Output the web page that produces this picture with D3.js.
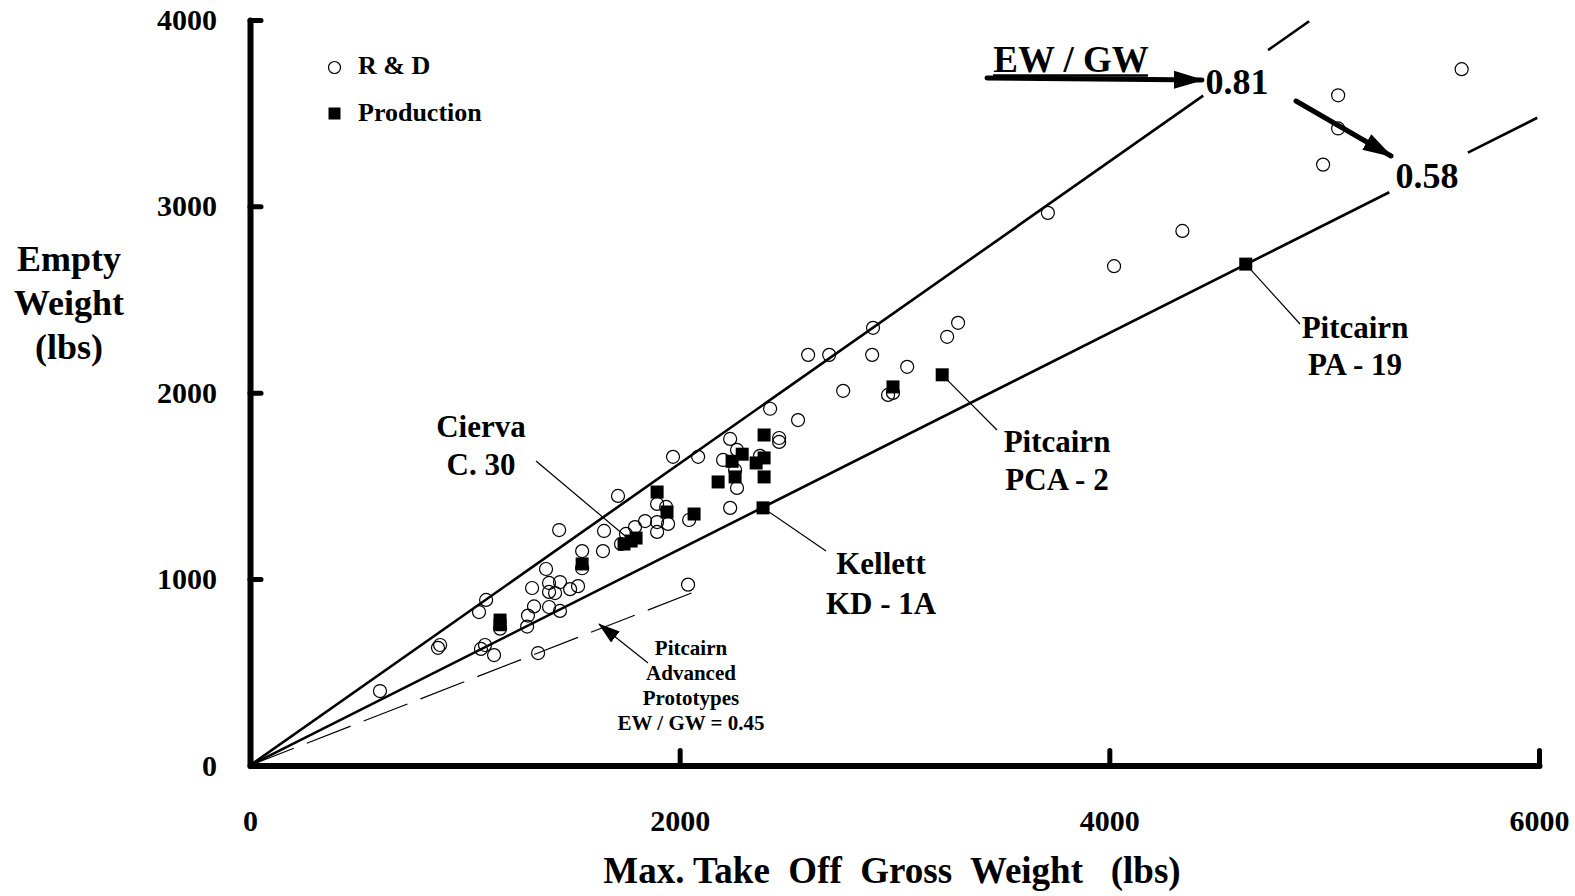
<!DOCTYPE html>
<html>
<head>
<meta charset="utf-8">
<script src="https://cdn.jsdelivr.net/npm/d3@7"></script>
<style>
  body { margin: 0; background: #fff; }
  text { font-family: "Liberation Serif", "Times New Roman", serif; font-weight: bold; fill: #000; }
</style>
</head>
<body>
<div id="chart"></div>
<script>
// R & D aircraft: gross weight / empty weight (lbs)
rdGross = [605, 875, 885, 1066, 1099, 1075, 1094, 1136, 1341, 1164, 1290, 1294, 1322, 1392, 1443,
  1313, 1378, 1392, 1443, 1392, 1420, 1490, 1527, 1439, 1546, 1643, 1648, 1713, 1969, 2086,
  1895, 1937, 1895, 1946, 1895, 1839, 1792, 1750, 1727, 2044, 2421, 2551, 2463, 2463, 2235,
  2267, 2202, 2258, 2267, 2374, 2235, 2900, 2598, 2696, 2896, 3059, 2761, 2970, 2993, 3296,
  3245, 3714, 4022, 4340, 4995, 5065, 5065, 5640, 2039, 1546]
rdEmpty = [399, 631, 646, 823, 888, 625, 646, 592, 603, 734, 745, 804, 853, 850, 829,
  952, 1054, 979, 984, 931, 925, 946, 962, 1263, 1150, 1150, 1258, 1446, 1656, 1656,
  1403, 1387, 1306, 1296, 1253, 1311, 1279, 1242, 1188, 1317, 1914, 1853, 1757, 1736, 1752,
  1693, 1639, 1585, 1489, 1661, 1382, 2348, 2203, 2203, 2203, 2139, 2010, 1988, 1999, 2375,
  2300, 2965, 2679, 2868, 3224, 3418, 3596, 3736, 970, 1058]

// Production aircraft
prodGross = [1164, 1164, 1546, 1741, 1774, 1797, 1895, 1941, 2067, 2179, 2244, 2291, 2356, 2393,
  2393, 2258, 2393, 2388, 2993, 3222, 4635]
prodEmpty = [780, 755, 1081, 1188, 1204, 1220, 1467, 1360, 1349, 1521, 1632, 1670, 1623, 1650,
  1773, 1548, 1548, 1382, 2031, 2096, 2690]

// EW / GW trend lines: ratio and drawn gross-weight segments
trendRatio = [0.81, 0.58]
trendSegments = [[[0, 4437], [4739, 4930]], [[0, 5303], [5669, 5992]]]
protoRatio = 0.45
protoSegment = [0, 2080]

xTicks = [0, 2000, 4000, 6000]
yTicks = [0, 1000, 2000, 3000, 4000]

width = 1575
height = 896

x = d3.scaleLinear().domain([0, 6000]).range([250, 1539])
y = d3.scaleLinear().domain([0, 4000]).range([765.4, 20])

const svg = d3.select('#chart').append('svg')
  .attr('width', width)
  .attr('height', height)

const defs = svg.append('defs')
defs.append('marker')
  .attr('id', 'bigHead')
  .attr('markerUnits', 'userSpaceOnUse')
  .attr('viewBox', '0 0 30 20')
  .attr('refX', 28).attr('refY', 10)
  .attr('markerWidth', 30).attr('markerHeight', 20)
  .attr('orient', 'auto')
  .append('path').attr('d', 'M0,1 L30,10 L0,19 Z').attr('fill', '#000')
defs.append('marker')
  .attr('id', 'smallHead')
  .attr('markerUnits', 'userSpaceOnUse')
  .attr('viewBox', '0 0 22 14')
  .attr('refX', 21).attr('refY', 7)
  .attr('markerWidth', 22).attr('markerHeight', 14)
  .attr('orient', 'auto')
  .append('path').attr('d', 'M0,0 L22,7 L0,14 Z').attr('fill', '#000')

// trend lines
const line = d3.line().x(d => x(d[0])).y(d => y(d[1]))
trendRatio.forEach(function(r, i) {
  trendSegments[i].forEach(function(seg) {
    svg.append('path')
      .attr('d', line(seg.map(g => [g, g * r])))
      .attr('stroke', '#000')
      .attr('stroke-width', 2.6)
      .attr('fill', 'none')
  })
})
svg.append('path')
  .attr('d', line(protoSegment.map(g => [g, g * protoRatio])))
  .attr('stroke', '#000')
  .attr('stroke-width', 1.2)
  .attr('stroke-dasharray', '47,14')
  .attr('fill', 'none')

// axes
const xAxis = svg.append('g')
  .attr('transform', 'translate(0,' + y(0) + ')')
  .call(d3.axisBottom(x).tickValues(xTicks).tickFormat(d3.format('d'))
    .tickSizeInner(-15).tickSizeOuter(0).tickPadding(44))
const yAxis = svg.append('g')
  .attr('transform', 'translate(' + x(0) + ',0)')
  .call(d3.axisLeft(y).tickValues(yTicks).tickFormat(d3.format('d'))
    .tickSizeInner(-11).tickSizeOuter(0).tickPadding(33))

;[xAxis, yAxis].forEach(function(a) {
  a.select('.domain').attr('stroke', '#000').attr('stroke-width', 6).attr('stroke-linecap', 'round')
  a.selectAll('.tick line').attr('stroke', '#000').attr('stroke-width', 5).attr('stroke-linecap', 'round')
  a.selectAll('.tick text')
    .style('font-family', '"Liberation Serif", serif')
    .style('font-weight', 'bold')
    .style('font-size', '30px')
    .attr('fill', '#000')
})
yAxis.selectAll('.tick line').filter(d => d == 0).remove()
xAxis.selectAll('.tick line').filter(d => d == 0).remove()

// axis titles
svg.append('text')
  .attr('x', 892).attr('y', 883)
  .attr('text-anchor', 'middle')
  .attr('font-size', '37px')
  .style('white-space', 'pre')
  .text('Max. Take  Off  Gross  Weight   (lbs)')
;['Empty', 'Weight', '(lbs)'].forEach(function(t, i) {
  svg.append('text')
    .attr('x', 69).attr('y', 271 + i * 44)
    .attr('text-anchor', 'middle')
    .attr('font-size', '36px')
    .text(t)
})

// data points
svg.append('g').selectAll('circle')
  .data(d3.zip(rdGross, rdEmpty))
  .join('circle')
  .attr('cx', d => x(d[0]))
  .attr('cy', d => y(d[1]))
  .attr('r', 6.5)
  .attr('fill', 'none')
  .attr('stroke', '#000')
  .attr('stroke-width', 1.2)

svg.append('g').selectAll('rect')
  .data(d3.zip(prodGross, prodEmpty))
  .join('rect')
  .attr('x', d => x(d[0]) - 6.5)
  .attr('y', d => y(d[1]) - 6.5)
  .attr('width', 13)
  .attr('height', 13)
  .attr('fill', '#000')

// legend
svg.append('circle').attr('cx', 334.5).attr('cy', 67.5).attr('r', 6)
  .attr('fill', 'none').attr('stroke', '#000').attr('stroke-width', 1.2)
svg.append('text').attr('x', 358).attr('y', 74).attr('font-size', '26px').text('R & D')
svg.append('rect').attr('x', 328.5).attr('y', 107.5).attr('width', 12).attr('height', 12).attr('fill', '#000')
svg.append('text').attr('x', 358).attr('y', 121).attr('font-size', '26px').text('Production')

// labelled aircraft
function leader(x1, y1, x2, y2) {
  svg.append('line')
    .attr('x1', x1).attr('y1', y1).attr('x2', x2).attr('y2', y2)
    .attr('stroke', '#000').attr('stroke-width', 1.2)
}
function label(lines, cx, cy, size, gap) {
  lines.forEach(function(t, i) {
    svg.append('text')
      .attr('x', cx).attr('y', cy + i * gap)
      .attr('text-anchor', 'middle')
      .attr('font-size', size + 'px')
      .text(t)
  })
}

leader(536, 461, x(1774), y(1204))
label(['Cierva', 'C. 30'], 481, 437, 31, 38)

leader(x(2388), y(1382), 826, 551)
label(['Kellett', 'KD - 1A'], 881, 574, 31, 40)

leader(x(3222), y(2096), 997, 430)
label(['Pitcairn', 'PCA - 2'], 1057, 452, 31, 38)

leader(x(4635), y(2690), 1300, 324)
label(['Pitcairn', 'PA - 19'], 1355, 338, 31, 37)

svg.append('line')
  .attr('x1', 648).attr('y1', 663).attr('x2', 599).attr('y2', 624)
  .attr('stroke', '#000').attr('stroke-width', 1.2)
  .attr('marker-end', 'url(#smallHead)')
label(['Pitcairn', 'Advanced', 'Prototypes', 'EW / GW = 0.45'], 691, 655, 21, 25)

// EW / GW callout
svg.append('text').attr('x', 1071).attr('y', 72).attr('text-anchor', 'middle')
  .attr('font-size', '37px').text('EW / GW')
svg.append('line').attr('x1', 993).attr('y1', 75.5).attr('x2', 1148).attr('y2', 75.5)
  .attr('stroke', '#000').attr('stroke-width', 2.5)
svg.append('line')
  .attr('x1', 987).attr('y1', 78).attr('x2', 1202).attr('y2', 80)
  .attr('stroke', '#000').attr('stroke-width', 5).attr('stroke-linecap', 'round')
  .attr('marker-end', 'url(#bigHead)')
svg.append('text').attr('x', 1237).attr('y', 94).attr('text-anchor', 'middle')
  .attr('font-size', '36px').text('0.81')
svg.append('line')
  .attr('x1', 1296).attr('y1', 101).attr('x2', 1391).attr('y2', 156)
  .attr('stroke', '#000').attr('stroke-width', 5).attr('stroke-linecap', 'round')
  .attr('marker-end', 'url(#bigHead)')
svg.append('text').attr('x', 1427).attr('y', 188).attr('text-anchor', 'middle')
  .attr('font-size', '36px').text('0.58')
</script>
</body>
</html>
